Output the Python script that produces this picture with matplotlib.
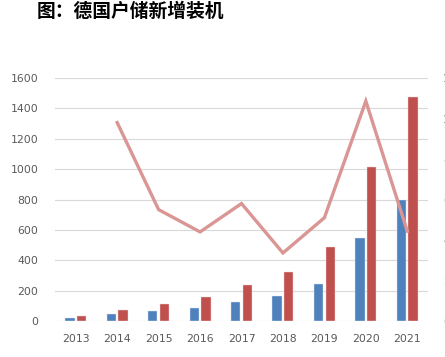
import matplotlib
matplotlib.use("Agg")
import matplotlib.pyplot as plt
import numpy as np

years = ["2013", "2014", "2015", "2016", "2017", "2018", "2019", "2020", "2021"]
series_blue = [22, 44, 64, 86, 123, 163, 246, 548, 800]
series_red = [35, 70, 110, 156, 240, 320, 485, 1015, 1475]
growth_years = ["2014", "2015", "2016", "2017", "2018", "2019", "2020", "2021"]
growth = [98, 55, 44, 58, 33.6, 51, 108.6, 44.4]
left_ticks = [0, 200, 400, 600, 800, 1000, 1200, 1400, 1600]
right_ticks = [0, 20, 40, 60, 80, 100, 120]
right_labels = ["0%", "20%", "40%", "60%", "80%", "100%", "120%"]
title = "图：德国户储新增装机"

plt.rcParams['font.family'] = ['DejaVu Sans']

fig = plt.figure(figsize=(4.45, 3.57), dpi=100)
ax = fig.add_axes([0.1236, 0.1008, 0.8382, 0.6807])
x = np.arange(len(years))
w = 0.225
ax.bar(x - 0.14, series_blue, width=w, color="#4F81BD", edgecolor="#DCE6F2", linewidth=0.3, zorder=2)
ax.bar(x + 0.14, series_red, width=w, color="#C0504D", edgecolor="#F2DCDB", linewidth=0.3, zorder=2)
ax.set_xlim(-0.5, len(years) - 0.5)
ax.set_ylim(0, 1600)
ax.set_yticks(left_ticks)
ax.set_xticks(x)
ax.set_xticklabels(years)
ax.grid(axis="y", color="#D9D9D9", linewidth=0.8, zorder=0)
ax.set_axisbelow(True)
for s in ax.spines.values():
    s.set_visible(False)
ax.tick_params(axis="both", length=0, labelsize=7.8, colors="#595959")
ax.tick_params(axis="y", pad=12)
ax.tick_params(axis="x", pad=9)

ax2 = ax.twinx()
gx = [years.index(g) for g in growth_years]
ax2.plot(gx, growth, color="#D99694", linewidth=2.4, solid_joinstyle="miter", zorder=3)
ax2.set_ylim(0, 120)
ax2.set_yticks(right_ticks)
ax2.set_yticklabels(right_labels)
for s in ax2.spines.values():
    s.set_visible(False)
ax2.tick_params(axis="y", length=0, labelsize=7.8, colors="#595959", pad=11)

fig.text(0.083, 0.968, title, fontsize=13.5, fontweight="heavy",
         family=["Noto Sans CJK SC", "DejaVu Sans"], color="black", va="center", ha="left")

fig.savefig("out.png", dpi=100)
